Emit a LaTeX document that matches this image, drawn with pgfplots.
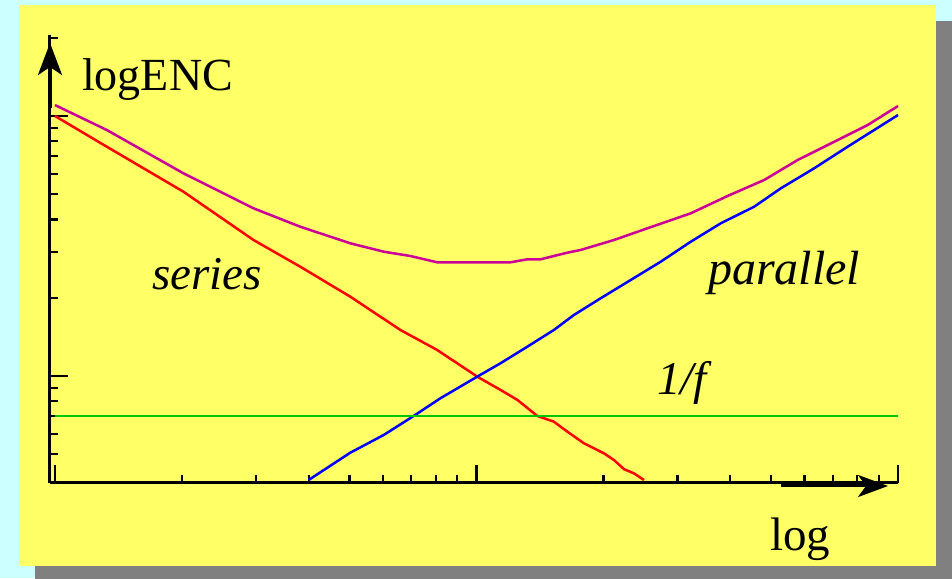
\documentclass[border=0pt]{standalone}
\usepackage{pgfplots}
\pgfplotsset{compat=1.18}
\usetikzlibrary{arrows.meta}
\usepackage{fontspec}
\setmainfont{Liberation Serif}

\definecolor{bgcyan}{HTML}{CCFFFF}
\definecolor{panel}{HTML}{FFFF66}
\definecolor{shadow}{HTML}{808080}
\definecolor{totalc}{HTML}{CC0099}
\definecolor{flicker}{HTML}{00C800}

\begin{document}
\begin{tikzpicture}[x=1pt,y=1pt]
  \useasboundingbox (0,0) rectangle (952,578);
  % background, drop shadow and panel
  \fill[bgcyan] (0,0) rectangle (952,578);
  \fill[shadow] (35,-4) rectangle (956,557);
  \fill[panel] (19,12) rectangle (936,573);

  \begin{axis}[
    at={(50pt,95.3pt)}, anchor=south west,
    scale only axis, width=848pt, height=447.7pt,
    xmode=log, ymode=log,
    xmin=0.973, xmax=100,
    ymin=0.3886, ymax=20.5,
    axis x line*=bottom, axis y line*=left,
    axis line style={line width=3pt, black},
    xtick={1,10,100},
    minor xtick={2,3,4,5,6,7,8,9,20,30,40,50,60,70,80,90},
    ytick={1,10},
    minor ytick={0.5,0.6,0.7,0.8,0.9,2,3,4,5,6,7,8,9,20},
    xticklabels={,,}, yticklabels={,},
    tick align=inside,
    major tick length=18pt, minor tick length=7.7pt,
    every tick/.style={black, line width=2.3pt},
    clip=false,
  ]
    % series noise
    \addplot[red, line width=2.5pt] coordinates {
      (1.0,10.0) (1.327,7.62) (2.017,5.115) (2.958,3.335) (3.818,2.633)
      (5.020,2.018) (6.599,1.503) (8.066,1.259) (8.999,1.119) (10.04,0.994)
      (11.40,0.884) (12.50,0.809) (13.94,0.702) (15.26,0.667) (16.42,0.611)
      (17.98,0.551) (20.06,0.504) (21.19,0.475) (22.39,0.438) (23.64,0.422)
      (24.97,0.398)};
    % total noise
    \addplot[totalc, line width=2.5pt] coordinates {
      (1.0,11.02) (1.327,8.837) (2.017,6.020) (2.958,4.416) (3.818,3.752)
      (4.753,3.335) (5.020,3.239) (6.024,3.007) (6.970,2.894) (8.066,2.737)
      (12.04,2.737) (13.20,2.811) (14.19,2.811) (16.42,2.981) (17.66,3.053)
      (19.70,3.219) (21.19,3.335) (25.44,3.700) (32.24,4.225) (39.40,4.923)
      (48.13,5.674) (57.80,6.774) (70.60,7.963) (84.73,9.235) (100,10.93)};
    % parallel noise
    \addplot[blue, line width=2.5pt] coordinates {
      (3.996,0.398) (5.020,0.507) (6.024,0.593) (7.098,0.702) (8.212,0.821)
      (10.04,0.994) (11.40,1.119) (13.20,1.296) (15.26,1.503) (17.03,1.717)
      (19.70,1.990) (23.22,2.340) (27.36,2.752) (32.24,3.285) (37.98,3.867)
      (45.58,4.479) (52.74,5.272) (63.26,6.294) (75.95,7.620) (100,10.09)};
    % 1/f noise
    \addplot[flicker, line width=2.7pt] coordinates {(1,0.702) (100,0.702)};
  \end{axis}

  % axis arrows
  \draw[line width=3pt, -{Stealth[length=32pt,width=24pt,inset=8pt]}]
    (50,470) -- (50,535);
  \draw[line width=3pt, -{Stealth[length=30pt,width=22pt,inset=8pt]}]
    (781,92) -- (888,92);

  % labels
  \node[anchor=base west, inner sep=0pt, font=\fontsize{46}{50}\selectfont]
    at (82,487.3) {logENC};
  \node[anchor=base west, inner sep=0pt, font=\fontsize{47}{50}\selectfont]
    at (770,28) {log};
  \node[anchor=base west, inner sep=0pt, font=\fontsize{47}{50}\selectfont\itshape]
    at (152,288) {series};
  \node[anchor=base west, inner sep=0pt, font=\fontsize{48}{50}\selectfont\itshape]
    at (708,293) {parallel};
  \node[anchor=base west, inner sep=0pt, font=\fontsize{47}{50}\selectfont\itshape]
    at (657,183) {1/f};
\end{tikzpicture}
\end{document}
